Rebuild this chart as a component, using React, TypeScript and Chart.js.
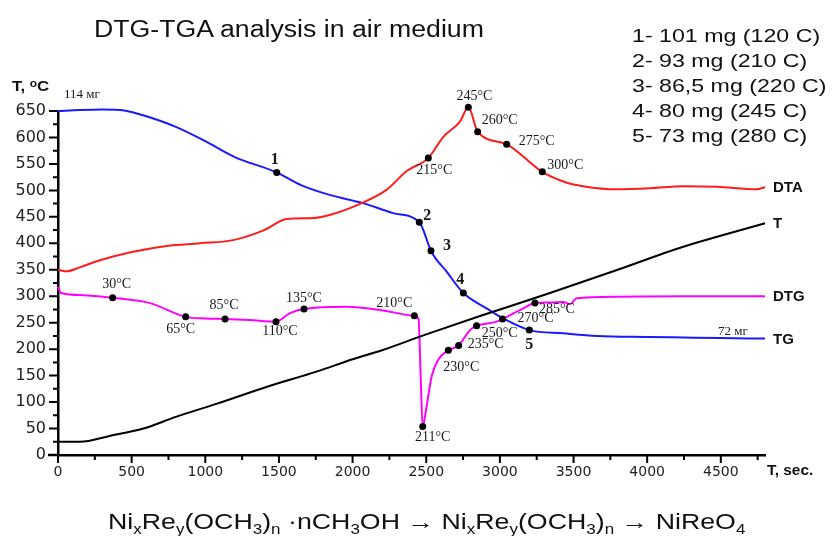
import React, { useEffect, useRef } from "react";
import { Chart, registerables } from "chart.js";

Chart.register(...registerables);

// ---- Data (time in seconds, value in the common "T, °C" scale) ----
const tgTime = [0, 150, 300, 450, 600, 800, 1000, 1200, 1485, 1650, 1850, 2070, 2275, 2453, 2480, 2532, 2640, 2752, 2910, 3022, 3200, 3430, 3660, 4000, 4250, 4500, 4800];
const tgValue = [650, 652, 653, 651, 640, 620, 593, 563, 534, 510, 491, 476, 457, 440, 425, 386, 346, 306, 277, 258, 236, 230, 225, 223, 222, 221, 220];

const dtaTime = [0, 60, 150, 285, 509, 738, 964, 1188, 1400, 1553, 1740, 1850, 2070, 2230, 2370, 2514, 2616, 2729, 2786, 2849, 3046, 3288, 3450, 3564, 3793, 4019, 4243, 4472, 4743, 4800];
const dtaValue = [350, 347, 355, 368, 384, 395, 400, 406, 425, 446, 448, 454, 477, 501, 537, 561, 601, 630, 657, 611, 587, 535, 515, 508, 502, 504, 508, 507, 502, 506];

const tTime = [0, 150, 350, 580, 800, 1080, 1420, 1760, 2000, 2200, 2500, 2870, 3340, 3790, 4240, 4800];
const tValue = [25, 25, 36, 50, 72, 97, 129, 158, 181, 198, 228, 263, 306, 349, 393, 438];

const dtgTime = [0, 20, 170, 371, 625, 867, 1000, 1134, 1300, 1480, 1575, 1670, 1960, 2186, 2419, 2448, 2462, 2476, 2502, 2536, 2582, 2650, 2720, 2797, 2842, 2978, 3018, 3159, 3238, 3340, 3430, 3476, 3521, 3793, 4243, 4800];
const dtgValue = [318, 306, 302, 297, 287, 261, 258, 257, 255, 252, 268, 276, 280, 274, 263, 257, 150, 54, 91, 148, 180, 198, 207, 236, 244, 252, 257, 277, 287, 288, 289, 285, 296, 299, 300, 300];

// marked points
const dtgMarkTime = [371, 867, 1134, 1480, 1670, 2419, 2476, 2650, 2720, 2842, 3018, 3238];
const dtgMarkValue = [297, 261, 257, 252, 276, 263, 54, 198, 207, 244, 257, 287];
const dtgMarkText = ["30°C", "65°C", "85°C", "110°C", "135°C", "210°C", "211°C", "230°C", "235°C", "250°C", "270°C", "285°C"];

const dtaMarkTime = [2514, 2786, 2849, 3046, 3288];
const dtaMarkValue = [561, 657, 611, 587, 535];
const dtaMarkText = ["215°C", "245°C", "260°C", "275°C", "300°C"];

const tgMarkTime = [1485, 2453, 2532, 2752, 3200];
const tgMarkValue = [534, 440, 386, 306, 236];
const tgMarkText = ["1", "2", "3", "4", "5"];

const tgStartText = "114 мг";
const tgEndText = "72 мг";

const curveNames = ["DTA", "T", "DTG", "TG"];

const xTicks = [0, 500, 1000, 1500, 2000, 2500, 3000, 3500, 4000, 4500];
const yTicks = [0, 50, 100, 150, 200, 250, 300, 350, 400, 450, 500, 550, 600, 650];

const legendLines = ["1- 101 mg (120 C)", "2- 93 mg (210 C)", "3- 86,5 mg (220 C)", "4- 80 mg (245 C)", "5- 73 mg (280 C)"];

// ---- label placement (pixel offsets from the marked point) ----
const dtgLabelOffset = [[4, -13], [-5, 12], [-1, -14], [4, 10], [0, -11], [-20, -12], [10, 11], [13, 17], [27, -1], [23, 7], [33, -1], [22, 6]];
const dtaLabelOffset = [[6, 12], [6, -11], [22, -11], [30, -3], [23, -7]];
const tgLabelOffset = [[-2, -13], [8, -6], [16, -5], [-3, -13], [0, 15]];

const RED = "#ff1c1c";
const BLUE = "#1a1aff";
const MAGENTA = "#ff00ff";
const BLACK = "#000000";

const pts = (xs: number[], ys: number[]) => xs.map((v, i) => ({ x: v, y: ys[i] }));

const annotatePlugin = {
  id: "annotate",
  afterDatasetsDraw(chart: any) {
    const { ctx } = chart;
    const x = chart.scales.x;
    const y = chart.scales.y;
    ctx.save();
    ctx.textAlign = "center";
    ctx.textBaseline = "middle";
    ctx.fillStyle = "#1a1a1a";
    const put = (times: number[], values: number[], texts: string[], offs: number[][], font: string) => {
      ctx.font = font;
      texts.forEach((t, i) => {
        ctx.fillText(t, x.getPixelForValue(times[i]) + offs[i][0], y.getPixelForValue(values[i]) + offs[i][1]);
      });
    };
    put(dtgMarkTime, dtgMarkValue, dtgMarkText, dtgLabelOffset, '14px "Liberation Serif"');
    put(dtaMarkTime, dtaMarkValue, dtaMarkText, dtaLabelOffset, '14px "Liberation Serif"');
    put(tgMarkTime, tgMarkValue, tgMarkText, tgLabelOffset, 'bold 16px "Liberation Serif"');

    ctx.font = '13px "Liberation Serif"';
    ctx.fillText(tgStartText, x.getPixelForValue(tgTime[0]) + 24, y.getPixelForValue(tgValue[0]) - 16);
    ctx.fillText(tgEndText, x.getPixelForValue(tgTime[tgTime.length - 1]) - 32, y.getPixelForValue(tgValue[tgValue.length - 1]) - 7);

    // curve names at the right end of each curve
    ctx.textAlign = "left";
    ctx.font = 'bold 15px "Liberation Sans"';
    ctx.fillStyle = "#111";
    const ends = [
      [dtaTime, dtaValue],
      [tTime, tValue],
      [dtgTime, dtgValue],
      [tgTime, tgValue],
    ];
    ends.forEach((e, i) => {
      const xs = e[0], ys = e[1];
      ctx.fillText(curveNames[i], x.getPixelForValue(xs[xs.length - 1]) + 8, y.getPixelForValue(ys[ys.length - 1]) + 1);
    });
    ctx.restore();
  },
  afterDraw(chart: any) {
    const { ctx, chartArea } = chart;
    const x = chart.scales.x;
    const y = chart.scales.y;
    ctx.save();
    ctx.strokeStyle = "#000";
    ctx.lineWidth = 2;
    ctx.beginPath();
    for (let v = x.min; v <= x.max; v += 250) {
      const p = x.getPixelForValue(v);
      const len = v % 500 === 0 ? 8 : 5;
      ctx.moveTo(p, chartArea.bottom);
      ctx.lineTo(p, chartArea.bottom + len);
    }
    for (let v = y.min; v <= y.max; v += 25) {
      const p = y.getPixelForValue(v);
      const len = v % 50 === 0 ? 9 : 5;
      ctx.moveTo(chartArea.left, p);
      ctx.lineTo(chartArea.left - len, p);
    }
    ctx.stroke();
    // x axis line continues slightly left of the y axis
    ctx.beginPath();
    ctx.lineWidth = 2.5;
    ctx.moveTo(chartArea.left - 10, chartArea.bottom);
    ctx.lineTo(chartArea.left, chartArea.bottom);
    ctx.stroke();
    ctx.restore();
  },
};

export default function App() {
  const ref = useRef<HTMLCanvasElement | null>(null);
  useEffect(() => {
    if (!ref.current) return;
    const line = (label: string, xs: number[], ys: number[], color: string) => ({
      type: "line" as const,
      label,
      data: pts(xs, ys),
      borderColor: color,
      backgroundColor: color,
      borderWidth: 2,
      pointRadius: 0,
      cubicInterpolationMode: "monotone" as const,
      fill: false,
      clip: false as any,
      order: 2,
    });
    const dots = (label: string, xs: number[], ys: number[]) => ({
      type: "scatter" as const,
      label,
      data: pts(xs, ys),
      showLine: false,
      pointRadius: 3.5,
      pointBackgroundColor: "#000",
      pointBorderColor: "#000",
      pointBorderWidth: 0,
      clip: false as any,
      order: 0,
    });
    const chart = new Chart(ref.current, {
      type: "line",
      data: {
        datasets: [
          line("T", tTime, tValue, BLACK),
          line("DTG", dtgTime, dtgValue, MAGENTA),
          line("DTA", dtaTime, dtaValue, RED),
          line("TG", tgTime, tgValue, BLUE),
          dots("DTG marks", dtgMarkTime, dtgMarkValue),
          dots("DTA marks", dtaMarkTime, dtaMarkValue),
          dots("TG marks", tgMarkTime, tgMarkValue),
        ] as any,
      },
      options: {
        animation: false,
        responsive: false,
        devicePixelRatio: 1,
        layout: { padding: { top: 111, right: 69, left: 0, bottom: 0 } },
        plugins: { legend: { display: false }, tooltip: { enabled: false }, title: { display: false } },
        scales: {
          x: {
            type: "linear",
            min: 0,
            max: 4800,
            grid: { display: false, drawTicks: false },
            border: { display: true, color: "#000", width: 2.5 },
            ticks: {
              padding: 9,
              color: "#222",
              font: { family: "DejaVu Sans", size: 14 },
              maxRotation: 0,
              minRotation: 0,
              autoSkip: false,
              callback: (v: any) => String(v),
            },
            afterBuildTicks: (s: any) => {
              s.ticks = xTicks.map((v) => ({ value: v }));
            },
            afterFit: (s: any) => {
              s.height = 81;
            },
          },
          y: {
            type: "linear",
            min: 0,
            max: 650,
            grid: { display: false, drawTicks: false },
            border: { display: true, color: "#000", width: 2.5 },
            ticks: {
              padding: 12,
              color: "#222",
              font: { family: "DejaVu Sans", size: 16 },
              autoSkip: false,
              callback: (v: any) => String(v),
            },
            afterBuildTicks: (s: any) => {
              s.ticks = yTicks.map((v) => ({ value: v }));
            },
            afterFit: (s: any) => {
              s.width = 58;
            },
          },
        },
      },
      plugins: [annotatePlugin],
    });
    return () => chart.destroy();
  }, []);

  const sans = '"Liberation Sans", Arial, sans-serif';
  const sub = { fontSize: 14, verticalAlign: -5 } as const;
  return (
    <div style={{ position: "absolute", left: 0, top: 0, width: 834, height: 536, background: "#fff", overflow: "hidden" }}>
      <canvas ref={ref} width={834} height={536} style={{ position: "absolute", left: 0, top: 0 }} />
      <div
        style={{
          position: "absolute", left: 94, top: 16, fontFamily: sans, fontSize: 23, lineHeight: "26px",
          color: "#111", whiteSpace: "nowrap", transform: "scaleX(1.16)", transformOrigin: "left top",
        }}
      >
        DTG-TGA analysis in air medium
      </div>
      <div
        style={{
          position: "absolute", left: 632, top: 23, fontFamily: sans, fontSize: 19, lineHeight: "25px",
          color: "#111", whiteSpace: "nowrap", transform: "scaleX(1.22)", transformOrigin: "left top",
        }}
      >
        {legendLines.map((l) => (
          <div key={l}>{l}</div>
        ))}
      </div>
      <div
        style={{
          position: "absolute", left: 12, top: 78, fontFamily: sans, fontSize: 14, fontWeight: "bold",
          color: "#111", whiteSpace: "nowrap", transform: "scaleX(1.2)", transformOrigin: "left top",
        }}
      >
        T, <sup style={{ fontSize: 10, verticalAlign: 4 }}>o</sup>C
      </div>
      <div
        style={{
          position: "absolute", left: 767, top: 462, fontFamily: sans, fontSize: 14, fontWeight: "bold",
          color: "#111", whiteSpace: "nowrap", transform: "scaleX(1.1)", transformOrigin: "left top",
        }}
      >
        T, sec.
      </div>
      <div
        style={{
          position: "absolute", left: 108, top: 509, fontFamily: sans,
          fontSize: 22, lineHeight: "26px", color: "#111", whiteSpace: "nowrap",
          transform: "scaleX(1.215)", transformOrigin: "left top",
        }}
      >
        Ni<sub style={sub}>x</sub>Re<sub style={sub}>y</sub>(OCH<sub style={sub}>3</sub>)<sub style={sub}>n</sub> ·nCH
        <sub style={sub}>3</sub>OH → Ni<sub style={sub}>x</sub>Re<sub style={sub}>y</sub>(OCH<sub style={sub}>3</sub>)
        <sub style={sub}>n</sub> → NiReO<sub style={sub}>4</sub>
      </div>
    </div>
  );
}
